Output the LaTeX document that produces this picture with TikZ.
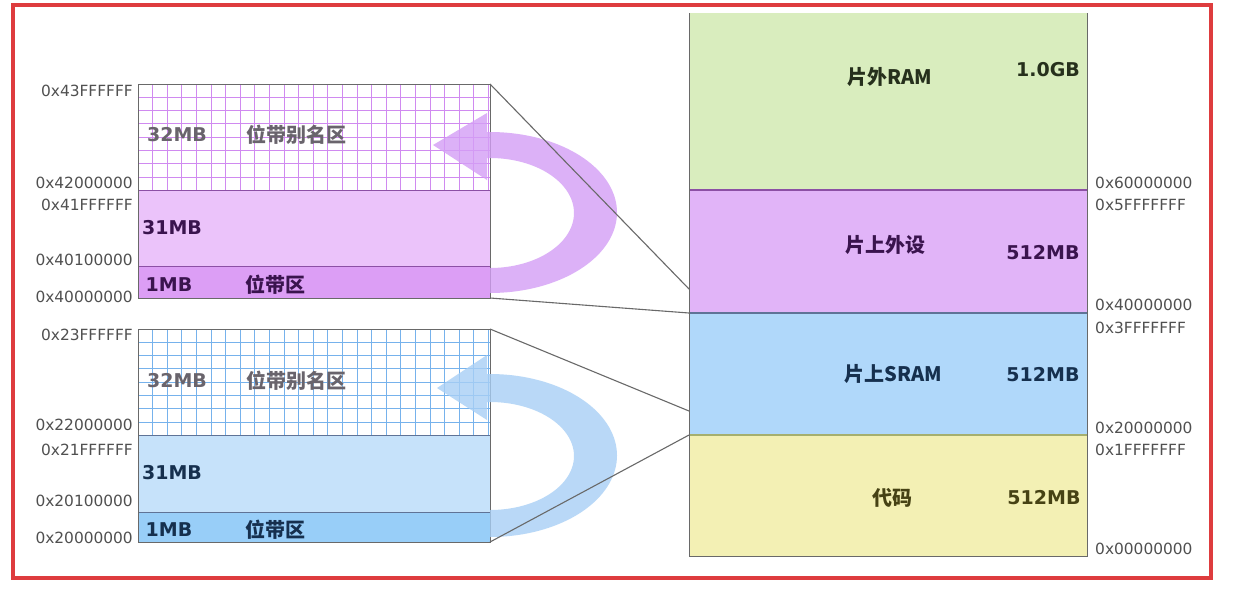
\documentclass[tikz,border=0pt]{standalone}
\usepackage{fontspec}
\setmainfont{DejaVu Sans}
\newfontfamily\cjk{Noto Sans CJK SC}
\definecolor{ramg}{RGB}{217,237,190}
\definecolor{perp}{RGB}{225,180,248}
\definecolor{sramb}{RGB}{176,216,250}
\definecolor{codey}{RGB}{243,240,180}
\definecolor{pthree}{RGB}{235,195,250}
\definecolor{pone}{RGB}{220,158,245}
\definecolor{bthree}{RGB}{198,226,250}
\definecolor{bone}{RGB}{152,206,248}
\definecolor{pgrid}{RGB}{208,138,240}
\definecolor{bgrid}{RGB}{118,178,236}
\definecolor{parrow}{RGB}{212,158,245}
\definecolor{barrow}{RGB}{168,207,245}
\definecolor{addr}{RGB}{80,80,80}
\definecolor{redframe}{RGB}{222,60,62}
\definecolor{ptext}{RGB}{58,20,78}
\definecolor{btext}{RGB}{22,48,78}
\definecolor{gtext}{RGB}{105,100,108}
\definecolor{rtext}{RGB}{38,48,28}
\definecolor{ytext}{RGB}{70,66,20}
\definecolor{psep}{RGB}{140,80,165}
\definecolor{bsep}{RGB}{95,115,150}
\definecolor{ysep}{RGB}{165,175,110}
\definecolor{edge}{RGB}{105,105,105}
\begin{document}
\begin{tikzpicture}[x=1pt,y=-1pt,
  region/.style={anchor=north west, inner sep=0pt, outer sep=0pt, minimum width=#1},
  addrL/.style={font=\fontsize{15.4}{16}\selectfont, text=addr, anchor=east, inner sep=0pt},
  addrR/.style={font=\fontsize{15.4}{16}\selectfont, text=addr, anchor=west, inner sep=0pt},
  sz/.style={font=\fontsize{19}{19}\selectfont\bfseries, inner sep=0pt},
  cj/.style={font=\cjk\fontsize{20}{20}\selectfont\bfseries, inner sep=0pt},
  link/.style={draw=edge, line width=1.1pt},
  gridline/.style={draw=#1, line width=1pt},
]
\useasboundingbox (0,0) rectangle (1255,598);
\fill[white] (0,0) rectangle (1255,598);
\draw[redframe, line width=4pt] (13,5) rectangle (1211,578);

% ---------- right column ----------
\node[region=398pt, minimum height=177pt, fill=ramg]  (ram)   at (689,13)  {};
\node[region=398pt, minimum height=123pt, fill=perp]  (perip) at (689,190) {};
\node[region=398pt, minimum height=122pt, fill=sramb] (sram)  at (689,313) {};
\node[region=398pt, minimum height=121pt, fill=codey] (code)  at (689,435) {};
\draw[psep, line width=1.6pt] (perip.north west) -- (perip.north east);
\draw[bsep, line width=1.6pt] (sram.north west) -- (sram.north east);
\draw[ysep, line width=1.6pt] (code.north west) -- (code.north east);
\draw[edge, line width=1pt] (ram.north west) -- (code.south west) -- (code.south east) -- (ram.north east);

\node[cj, text=rtext] (tram) at (890,77) {片外RAM};
\node[sz, text=rtext] (sram1) at (1048,70) {1.0GB};
\node[cj, text=ptext] (tper) at (885,245) {片上外设};
\node[sz, text=ptext] (sper) at (1043,253) {512MB};
\node[cj, text=btext] (tsram) at (893,374) {片上SRAM};
\node[sz, text=btext] (ssram) at (1043,375) {512MB};
\node[cj, text=ytext] (tcode) at (892,498) {代码};
\node[sz, text=ytext] (scode) at (1044,498) {512MB};

\node[addrR] (r1) at (1095,183) {0x60000000};
\node[addrR] (r2) at (1095,205) {0x5FFFFFFF};
\node[addrR] (r3) at (1095,305) {0x40000000};
\node[addrR] (r4) at (1095,328) {0x3FFFFFFF};
\node[addrR] (r5) at (1095,428) {0x20000000};
\node[addrR] (r6) at (1095,450) {0x1FFFFFFF};
\node[addrR] (r7) at (1095,549) {0x00000000};

% ---------- left top block (0x4...) ----------
\node[region=352pt, minimum height=106pt, fill=white]  (pa)  at (138,84)  {};
\node[region=352pt, minimum height=76pt,  fill=pthree] (p31) at (138,190) {};
\node[region=352pt, minimum height=32pt,  fill=pone]   (p1)  at (138,266) {};
\begin{scope}
  \clip (pa.north west) rectangle (pa.south east);
  \foreach \i in {1,...,24} \draw[gridline=pgrid] ({138+14.6*\i},84) -- ++(0,106);
  \foreach \j in {1,...,7} \draw[gridline=pgrid] (138,{84+13.3*\j}) -- ++(352,0);
\end{scope}
\draw[psep, line width=1pt] (p31.north west) -- (p31.north east);
\draw[psep, line width=1pt] (p1.north west) -- (p1.north east);
\draw[edge, line width=1pt] (pa.north west) rectangle (p1.south east);

% ---------- left bottom block (0x2...) ----------
\node[region=352pt, minimum height=106pt, fill=white]  (ba)  at (138,329) {};
\node[region=352pt, minimum height=77pt,  fill=bthree] (b31) at (138,435) {};
\node[region=352pt, minimum height=30pt,  fill=bone]   (b1)  at (138,512) {};
\begin{scope}
  \clip (ba.north west) rectangle (ba.south east);
  \foreach \i in {1,...,24} \draw[gridline=bgrid] ({138+14.6*\i},329) -- ++(0,106);
  \foreach \j in {1,...,7} \draw[gridline=bgrid] (138,{329+13.3*\j}) -- ++(352,0);
\end{scope}
\draw[bsep, line width=1pt] (b31.north west) -- (b31.north east);
\draw[bsep, line width=1pt] (b1.north west) -- (b1.north east);
\draw[edge, line width=1pt] (ba.north west) rectangle (b1.south east);

% ---------- curved arrows ----------
\fill[parrow, fill opacity=0.8]
  plot[domain=90:-90, samples=73] ({490+127*cos(\x)},{212.5+80.5*sin(\x)})
  -- (487,132) -- (487,113) -- (433,145) -- (487,180) -- (487,158)
  -- plot[domain=-90:90, samples=73] ({490+84*cos(\x)},{213+55*sin(\x)}) -- cycle;
\fill[barrow, fill opacity=0.8]
  plot[domain=90:-90, samples=73] ({490+127*cos(\x)},{455.5+81.5*sin(\x)})
  -- (487,374) -- (487,355) -- (437,388) -- (487,420) -- (487,402)
  -- plot[domain=-90:90, samples=73] ({490+84*cos(\x)},{456+54*sin(\x)}) -- cycle;

% ---------- connectors ----------
\coordinate (pbb) at (689,289);
\coordinate (sbb) at (689,411);
\draw[link] (pa.north east) -- (pbb);
\draw[link] (p1.south east) -- (perip.south west);
\draw[link] (ba.north east) -- (sbb);
\draw[link] (b1.south east) -- (sram.south west);

% ---------- left texts ----------
\node[sz, text=gtext] (pa32) at (177,135) {32MB};
\node[cj, text=gtext] (paname) at (296,135) {位带别名区};
\node[sz, text=ptext] (p31t) at (172,228) {31MB};
\node[sz, text=ptext] (p1t) at (169,285) {1MB};
\node[cj, text=ptext] (p1name) at (275,285) {位带区};

\node[sz, text=gtext] (ba32) at (177,381) {32MB};
\node[cj, text=gtext] (baname) at (296,381) {位带别名区};
\node[sz, text=btext] (b31t) at (172,473) {31MB};
\node[sz, text=btext] (b1t) at (169,530) {1MB};
\node[cj, text=btext] (b1name) at (275,530) {位带区};

% ---------- left addresses ----------
\node[addrL] (l1) at (133,91)  {0x43FFFFFF};
\node[addrL] (l2) at (133,183) {0x42000000};
\node[addrL] (l3) at (133,205) {0x41FFFFFF};
\node[addrL] (l4) at (133,260) {0x40100000};
\node[addrL] (l5) at (133,297) {0x40000000};
\node[addrL] (l6) at (133,335) {0x23FFFFFF};
\node[addrL] (l7) at (133,425) {0x22000000};
\node[addrL] (l8) at (133,450) {0x21FFFFFF};
\node[addrL] (l9) at (133,501) {0x20100000};
\node[addrL] (l10) at (133,538) {0x20000000};
\end{tikzpicture}
\end{document}
